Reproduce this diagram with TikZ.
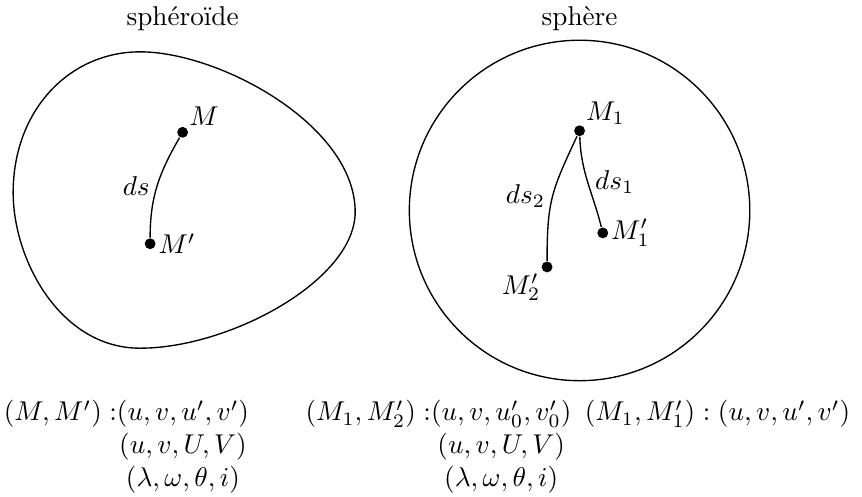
\documentclass[tikz,border=0pt]{standalone}
\usepackage{amsmath}
\usetikzlibrary{positioning}
\tikzset{
    metric diagram/.style = {line width=0.5pt},
    outline/.style        = {line width=0.5pt},
    arc/.style            = {line width=0.5pt},
    point/.style          = {circle, fill, inner sep=0pt,
                             minimum size=4pt, label distance=0pt},
    ptname/.style         = {inner sep=0.6pt},
    elem/.style           = {inner sep=2.5pt},
    title/.style          = {anchor=base},
    coords/.style         = {anchor=base west, inner sep=0pt}
}

\begin{document}
\begin{tikzpicture}[metric diagram]
\useasboundingbox (0,0) rectangle (11.14,-6.42);

% ================= Spheroid =================
\node[title] (tspheroid) at (2.36,-0.33) {sphéroïde};
\draw[outline] (1.81,-0.67)
    .. controls (2.84,-0.67) and (4.59,-1.62) .. (4.59,-2.74)
    .. controls (4.59,-3.62) and (2.97,-4.50) .. (1.81,-4.50)
    .. controls (0.78,-4.50) and (0.17,-3.36) .. (0.17,-2.49)
    .. controls (0.17,-1.42) and (0.90,-0.67) .. cycle;

\node[point, label={[ptname]north east:$M$}] (M) at (2.36,-1.71) {};
\node[point, label={[ptname]east:$M'$}] (Mp) at (1.94,-3.15) {};
\draw[arc] (M) to[out=-120, in=90] node[elem, left] {$ds$} (Mp);

% ================= Sphere =================
\node[title] (tsphere) at (7.49,-0.33) {sphère};
\draw[outline] (7.49,-2.72) circle (2.20);

\node[point, label={[ptname]north east:$M_1$}] (Mone) at (7.49,-1.69) {};
\node[point, label={[ptname]east:$M'_1$}] (Monep) at (7.79,-3.01) {};
\node[point, label={[ptname]south west:$M'_2$}] (Mtwop) at (7.07,-3.45) {};
\draw[arc] (Mone) to[out=-88, in=104] node[elem, right] {$ds_1$} (Monep);
\draw[arc] (Mone) to[out=-115, in=90, looseness=1.2]
    node[elem, left] {$ds_2$} (Mtwop);

% ================= Coordinates =================
\node[coords] (cspheroid) at (0.04,-5.44) {$\begin{array}[t]{@{}r@{}c@{}}
    (M,M') : & (u,v,u',v') \\
             & (u,v,U,V) \\
             & (\lambda,\omega,\theta,i)
  \end{array}$};
\node[coords] (csphtwo) at (3.94,-5.44) {$\begin{array}[t]{@{}r@{}c@{}}
    (M_1,M'_2) : & (u,v,u'_0,v'_0) \\
                 & (u,v,U,V) \\
                 & (\lambda,\omega,\theta,i)
  \end{array}$};
\node[coords] (csphone) at (7.55,-5.44) {$(M_1,M'_1) : (u,v,u',v')$};

\end{tikzpicture}
\end{document}
